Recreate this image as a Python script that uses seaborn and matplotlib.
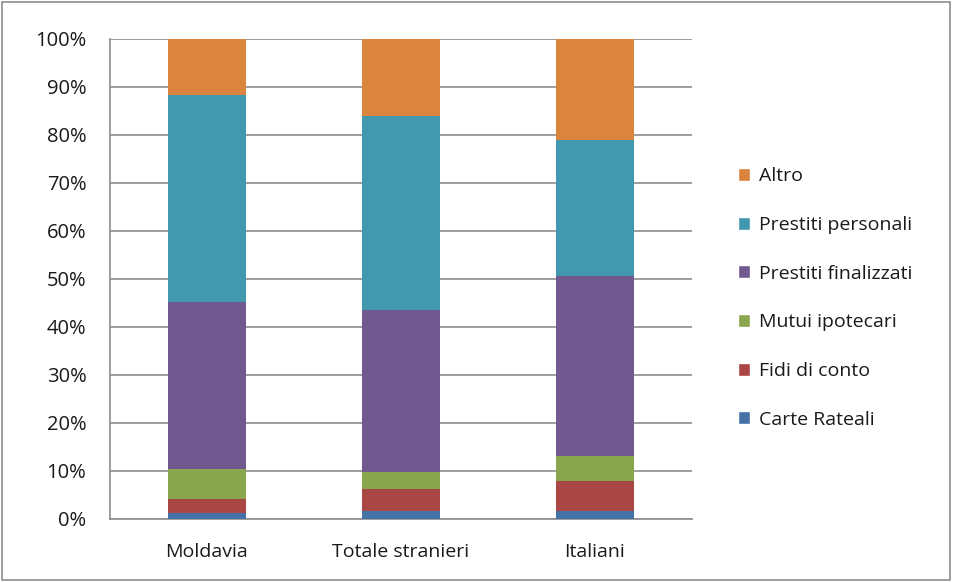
import numpy as np
import pandas as pd
import matplotlib
matplotlib.use("Agg")
import matplotlib.pyplot as plt
import matplotlib.ticker as mticker
from matplotlib.patches import Rectangle, Patch
import seaborn as sns

# data (percent shares)
groups = ["Moldavia", "Totale stranieri", "Italiani"]
carte_rateali = [1.3, 1.7, 1.7]
fidi_di_conto = [2.9, 4.6, 6.3]
mutui_ipotecari = [6.3, 3.4, 5.1]
prestiti_finalizzati = [34.7, 33.8, 37.6]
prestiti_personali = [43.2, 40.4, 28.2]
altro = [11.6, 16.1, 21.1]

series = [
    ("Carte Rateali", carte_rateali, "#4572A7"),
    ("Fidi di conto", fidi_di_conto, "#AA4643"),
    ("Mutui ipotecari", mutui_ipotecari, "#89A54E"),
    ("Prestiti finalizzati", prestiti_finalizzati, "#71588F"),
    ("Prestiti personali", prestiti_personali, "#4198AF"),
    ("Altro", altro, "#DB843D"),
]

sns.set_style("white")
plt.rcParams["font.family"] = ["Open Sans", "DejaVu Sans"]
plt.rcParams["text.color"] = "#1a1a1a"
plt.rcParams["xtick.color"] = "#1a1a1a"
plt.rcParams["ytick.color"] = "#1a1a1a"

fig = plt.figure(figsize=(9.54, 5.82), dpi=100)
ax = fig.add_axes([110 / 954, 1 - 519 / 582, 582 / 954, 480 / 582])

# cumulative totals, drawn from the top series down so lower ones overlap
vals = np.array([s[1] for s in series])
cum = vals.cumsum(axis=0)
handles = []
for i in range(len(series) - 1, -1, -1):
    name, _, color = series[i]
    df = pd.DataFrame({"group": groups, "value": cum[i]})
    sns.barplot(data=df, x="group", y="value", color=color, width=0.4,
                saturation=1, ax=ax, zorder=3, linewidth=0)
    handles.append(Patch(facecolor=color, label=name))

ax.set_ylim(0, 100)
ax.set_xlim(-0.5, 2.5)
ax.set_yticks(np.arange(0, 101, 10))
ax.yaxis.set_major_formatter(mticker.FuncFormatter(lambda v, p: f"{int(v)}%"))
ax.set_xlabel("")
ax.set_ylabel("")
ax.yaxis.grid(True, color="#8c8c8c", linewidth=1.2, zorder=0)
ax.set_axisbelow(True)
for s in ["top", "right"]:
    ax.spines[s].set_visible(False)
for s in ["left", "bottom"]:
    ax.spines[s].set_color("#8c8c8c")
    ax.spines[s].set_linewidth(1.2)
ax.tick_params(axis="y", length=7, color="#8c8c8c", width=1.2, labelsize=14.5, pad=10)
ax.tick_params(axis="x", which="major", length=0, labelsize=14, pad=17)
ax.set_xticks([-0.5, 0.5, 1.5, 2.5], minor=True)
ax.tick_params(axis="x", which="minor", length=7, color="#8c8c8c", width=1.2)

fig.legend(handles=handles, loc="center left", bbox_to_anchor=(720 / 954, 1 - 298 / 582),
           frameon=False, fontsize=14, handlelength=0.65, handleheight=0.65,
           handletextpad=0.45, labelspacing=1.58)

fig.patches.append(Rectangle((0.002, 0.003), 0.994, 0.993, transform=fig.transFigure,
                             fill=False, edgecolor="#8c8c8c", linewidth=1.2))

plt.savefig("out.png", dpi=100)
